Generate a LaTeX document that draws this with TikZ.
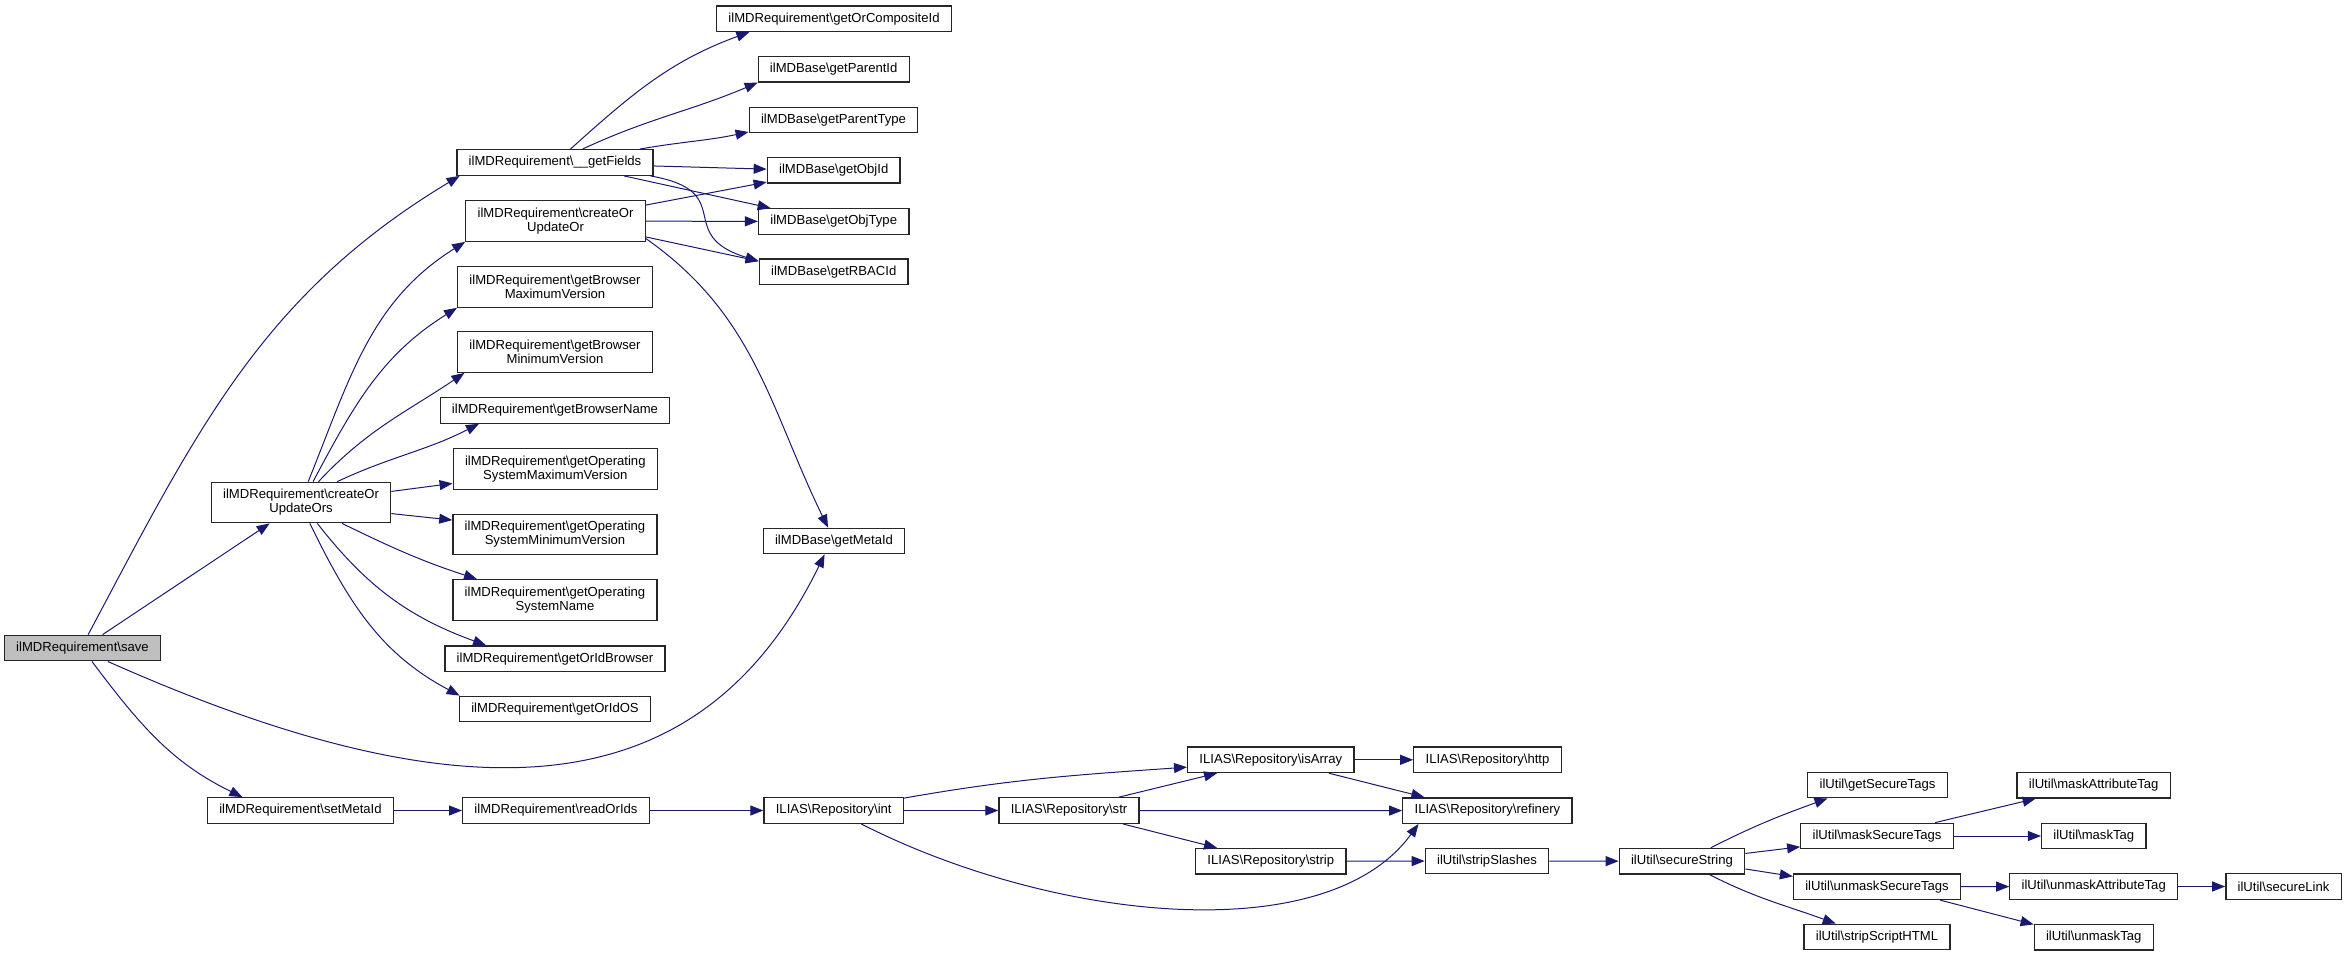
\documentclass[tikz,border=0pt]{standalone}
\usepackage{fontspec}
\setmainfont{Liberation Sans}
\usetikzlibrary{arrows.meta}
\definecolor{edgeblue}{HTML}{191970}
\newcommand{\bs}{\textbackslash}

\begin{document}
\begin{tikzpicture}[x=1pt,y=1pt,
        fn/.style={draw=black!85,line width=1.3pt,fill=white,font=\fontsize{13.1}{14.2}\selectfont,inner xsep=11.8pt,inner ysep=0pt,minimum height=25.5pt,align=center},
        fntwo/.style={fn,minimum height=40.5pt},
        root/.style={fn,fill=black!25},
        call/.style={draw=edgeblue,line width=1pt,-{Triangle[length=13pt,width=10pt]}}]
        \useasboundingbox (0,0) rectangle (2347,-956);
        \node[root] (1) at (82.5,-648) {ilMDRequirement\bs save};
        \node[fn] (2) at (555,-162.5) {ilMDRequirement\bs\_\_getFields};
        \node[fntwo] (3) at (555.5,-221) {ilMDRequirement\bs createOr\\UpdateOr};
        \node[fntwo] (4) at (555,-287) {ilMDRequirement\bs getBrowser\\MaximumVersion};
        \node[fntwo] (5) at (555,-352) {ilMDRequirement\bs getBrowser\\MinimumVersion};
        \node[fn] (6) at (555,-410.4) {ilMDRequirement\bs getBrowserName};
        \node[fntwo] (7) at (555.3,-469) {ilMDRequirement\bs getOperating\\SystemMaximumVersion};
        \node[fntwo] (8) at (555,-534.5) {ilMDRequirement\bs getOperating\\SystemMinimumVersion};
        \node[fntwo] (9) at (555,-600) {ilMDRequirement\bs getOperating\\SystemName};
        \node[fn] (10) at (555,-658.7) {ilMDRequirement\bs getOrIdBrowser};
        \node[fn] (11) at (555,-709) {ilMDRequirement\bs getOrIdOS};
        \node[fntwo] (12) at (301,-502.5) {ilMDRequirement\bs createOr\\UpdateOrs};
        \node[fn] (13) at (300.5,-810.5) {ilMDRequirement\bs setMetaId};
        \node[fn] (14) at (556,-810.5) {ilMDRequirement\bs readOrIds};
        \node[fn] (15) at (834,-18.7) {ilMDRequirement\bs getOrCompositeId};
        \node[fn] (16) at (833.7,-69.2) {ilMDBase\bs getParentId};
        \node[fn] (17) at (833.5,-120) {ilMDBase\bs getParentType};
        \node[fn] (18) at (833.7,-170.3) {ilMDBase\bs getObjId};
        \node[fn] (19) at (833.7,-221.5) {ilMDBase\bs getObjType};
        \node[fn] (20) at (833.7,-271.7) {ilMDBase\bs getRBACId};
        \node[fn] (21) at (834,-541) {ilMDBase\bs getMetaId};
        \node[fn] (22) at (833.7,-810.5) {ILIAS\bs Repository\bs int};
        \node[fn] (23) at (1069,-810.5) {ILIAS\bs Repository\bs str};
        \node[fn] (24) at (1270.8,-759.8) {ILIAS\bs Repository\bs isArray};
        \node[fn] (25) at (1270.8,-861.2) {ILIAS\bs Repository\bs strip};
        \node[fn] (26) at (1487.5,-759.8) {ILIAS\bs Repository\bs http};
        \node[fn] (27) at (1487.4,-810.6) {ILIAS\bs Repository\bs refinery};
        \node[fn] (28) at (1487,-861) {ilUtil\bs stripSlashes};
        \node[fn] (29) at (1682,-861.2) {ilUtil\bs secureString};
        \node[fn] (30) at (1877.5,-785) {ilUtil\bs getSecureTags};
        \node[fn] (31) at (1877,-836) {ilUtil\bs maskSecureTags};
        \node[fn] (32) at (1877,-886.7) {ilUtil\bs unmaskSecureTags};
        \node[fn] (33) at (1877,-937) {ilUtil\bs stripScriptHTML};
        \node[fn] (34) at (2093.7,-785.2) {ilUtil\bs maskAttributeTag};
        \node[fn] (35) at (2093.8,-836) {ilUtil\bs maskTag};
        \node[fn] (36) at (2093.7,-886.5) {ilUtil\bs unmaskAttributeTag};
        \node[fn] (37) at (2093.7,-937.2) {ilUtil\bs unmaskTag};
        \node[fn] (38) at (2283.5,-886.5) {ilUtil\bs secureLink};
        \draw[call] (1.67) to[out=62,in=211] (2.188);
        \draw[call] (1) -- (12);
        \draw[call] (1.-28) .. controls +(-24:400) and +(244:280) .. (21.-125);
        \draw[call] (1.-55) to[out=-53,in=154] (13.167);
        \draw[call] (12.71) to[out=68,in=212] (3.south west);
        \draw[call] (12.60) to[out=62,in=212] (4.-168);
        \draw[call] (12.50) to[out=47,in=214] (5.-167);
        \draw[call] (12.30) to[out=25,in=207] (6.-170);
        \draw[call] (12.7) -- (7.188);
        \draw[call] (12.-7) -- (8.172);
        \draw[call] (12.-27) to[out=-26,in=162] (9.165);
        \draw[call] (12.-52) to[out=-52,in=160] (10.169);
        \draw[call] (12.-67) to[out=-64,in=152] (11.172);
        \draw[call] (2.41) to[out=42,in=200] (15.189);
        \draw[call] (2.26) to[out=25,in=203] (16.-170);
        \draw[call] (2.9) to[out=10,in=192] (17.-172);
        \draw[call] (2.-2) -- (18.179);
        \draw[call] (2.-11) -- (19.168);
        \draw[call] (2.-8) .. controls +(-10:90) and +(163:90) .. (20.172);
        \draw[call] (3.10) -- (18.190);
        \draw[call] (3) -- (19);
        \draw[call] (3.-10) -- (20.172);
        \draw[call] (3.-11) to[out=-35,in=116] (21.114);
        \draw[call] (13) -- (14);
        \draw[call] (14) -- (22);
        \draw[call] (22) -- (23);
        \draw[call] (22.10) to[out=10,in=184] (24.185);
        \draw[call] (22.-26) .. controls +(-27:213) and +(-126:157) .. (27.-169);
        \draw[call] (23.15) -- (24.-166);
        \draw[call] (23) -- (27);
        \draw[call] (23.-14) -- (25.166);
        \draw[call] (24) -- (26);
        \draw[call] (24.-13) -- (27.168);
        \draw[call] (25) -- (28);
        \draw[call] (28) -- (29);
        \draw[call] (29.25) to[out=27,in=200] (30.-165);
        \draw[call] (29.7) -- (31.-172);
        \draw[call] (29.-7) -- (32.173);
        \draw[call] (29.-26) to[out=-27,in=160] (33.162);
        \draw[call] (31.13) -- (34.-167);
        \draw[call] (31) -- (35);
        \draw[call] (32) -- (36);
        \draw[call] (32.-12) -- (37.168);
        \draw[call] (36) -- (38);
\end{tikzpicture}
\end{document}
